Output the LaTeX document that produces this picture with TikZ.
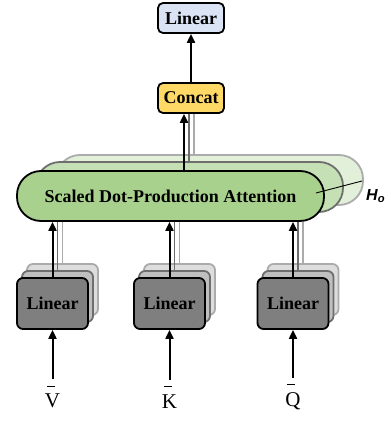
\documentclass[tikz,border=0pt]{standalone}
\usepackage{amsmath}
\usepackage{fontspec}
\setmainfont{Liberation Serif}
\setsansfont{Liberation Sans}
\usepackage{xcolor}
\usepackage{tikz}
\usetikzlibrary{arrows.meta,positioning,calc}
\definecolor{headblue}{HTML}{DAE3F3}
\definecolor{catyellow}{HTML}{FFD966}
\definecolor{attgreen}{HTML}{A9D18E}
\definecolor{attgreenb}{HTML}{C5E0B4}
\definecolor{attgreenc}{HTML}{E2F0D9}
\definecolor{lingray}{HTML}{7F7F7F}
\definecolor{lingrayb}{HTML}{BFBFBF}
\definecolor{lingrayc}{HTML}{DDDDDD}
\definecolor{edgeb}{HTML}{6E6E6E}
\definecolor{edgec}{HTML}{ABABAB}
\tikzset{
  boxfont/.style={font=\fontsize{18}{20}\selectfont\bfseries},
  smallbox/.style={draw, rounded corners=5pt, line width=1.8pt, boxfont, minimum width=66pt, minimum height=30pt, inner sep=0pt},
  attbox/.style={draw, rounded corners=24pt, line width=1.8pt, boxfont, minimum width=307pt, minimum height=50pt, inner sep=0pt},
  linbox/.style={draw, rounded corners=6pt, line width=1.8pt, boxfont, minimum width=71pt, minimum height=51pt, inner sep=0pt},
  inlabel/.style={font=\fontsize{21}{23}\selectfont, inner sep=0pt, align=left},
  line/.style={-{Triangle[length=9pt,width=8pt]}, line width=2pt},
  grayb/.style={line width=1.6pt, draw=edgeb},
  grayc/.style={line width=1.6pt, draw=edgec}
}
\newcommand{\barred}[1]{\hspace*{2pt}\rule{8pt}{1.3pt}\\[-2pt]#1}

\begin{document}
\begin{tikzpicture}[x=1pt,y=-1pt]
  \useasboundingbox (0,0) rectangle (390,422);
  \node[smallbox, fill=headblue] (linear) at (191,18) {Linear};
  \node[smallbox, fill=catyellow] (concat) at (191,98) {Concat};
  % heads, back to front
  \node[attbox, draw=edgec, fill=attgreenc] (att3) at (209.5,180) {};
  \node[attbox, draw=edgeb, fill=attgreenb] (att2) at (189.5,187) {};
  \node[attbox, fill=attgreen] (att) at (170.5,196) {Scaled Dot-Production Attention};
  \foreach \nm/\x/\lab in {v/52.5/V, k/169.5/K, q/293/Q}{
    \node[linbox, draw=edgec, fill=lingrayc] (\nm3) at (\x+10,289.5) {};
    \node[linbox, draw=edgeb, fill=lingrayb] (\nm2) at (\x+5,296.5) {};
    \node[linbox, fill=lingray] (\nm1) at (\x,303.5) {Linear};
    \node[inlabel] (in\nm) at (\x,397) {\barred{\lab}};
    \draw[grayc] (\nm3.north) -- (\nm3.north |- att.south);
    \draw[grayb] (\nm2.north) -- (\nm2.north |- att.south);
    \draw[line] (\nm1.north) -- (\nm1.north |- att.south);
    \coordinate (top\nm) at ($(in\nm.north)+(0,-6)$);
    \draw[line] (top\nm) -- (\nm1.south);
  }
  \coordinate (cin1) at ($(concat.south)+(-7,0)$);
  \coordinate (cin2) at ($(concat.south)+(-2,0)$);
  \coordinate (cin3) at ($(concat.south)+(3,0)$);
  \draw[grayc] (cin3 |- att3.north) -- (cin3);
  \draw[grayb] (cin2 |- att2.north) -- (cin2);
  \draw[line] (cin1 |- att.north) -- (cin1);
  \draw[line] (concat.north) -- (linear.south);
  \node[font=\sffamily\bfseries\itshape\fontsize{16}{18}\selectfont, anchor=west, inner sep=0pt] (ho) at (366,196) {H\textsubscript{o}};
  \coordinate (hotick) at ($(att.east)+(-9,-3)$);
  \draw[line width=0.9pt] (hotick) -- (362,181);
\end{tikzpicture}
\end{document}
